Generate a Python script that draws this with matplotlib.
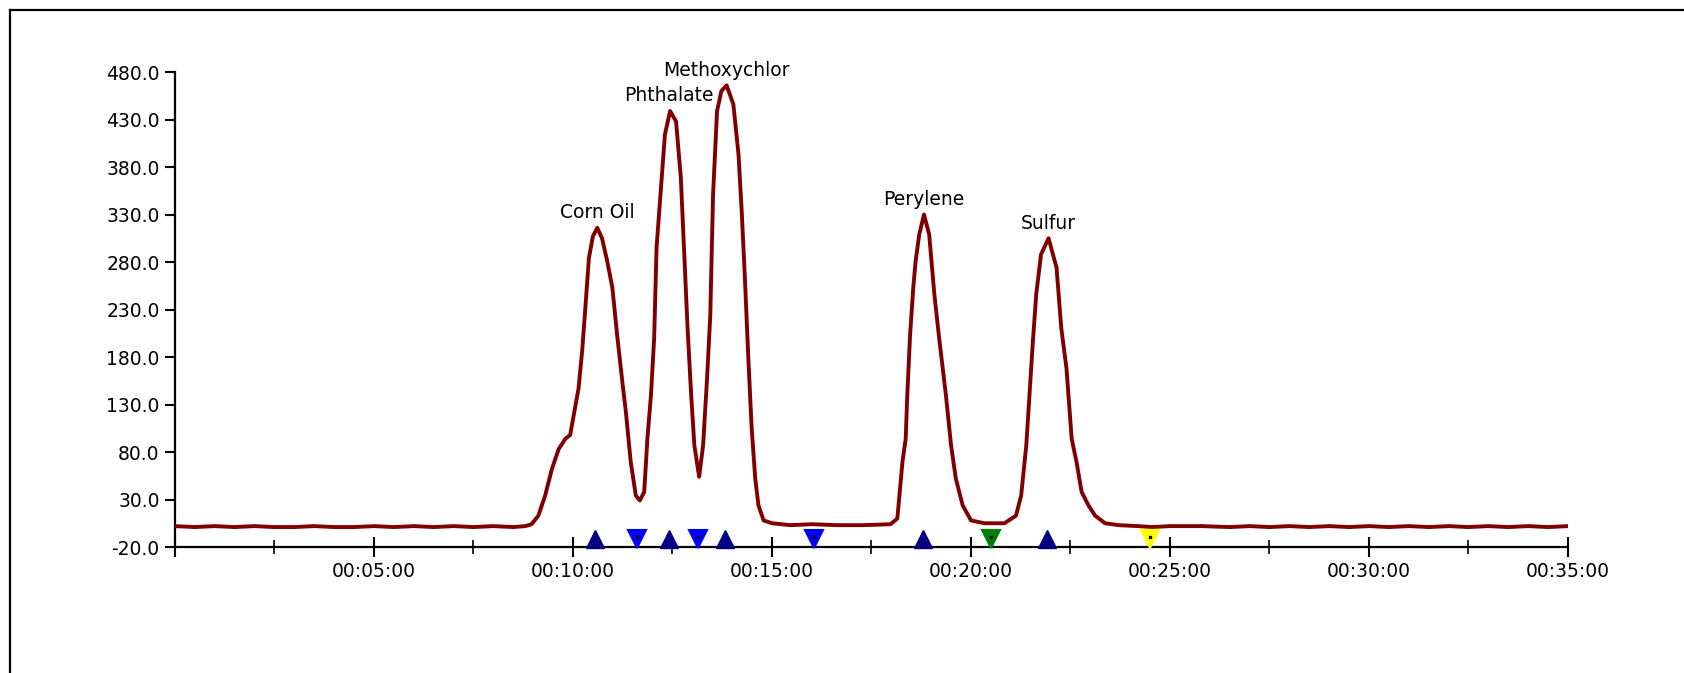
import matplotlib
matplotlib.use("Agg")
import matplotlib.pyplot as plt
from matplotlib.lines import Line2D
from matplotlib.ticker import MultipleLocator, FuncFormatter

# chromatogram trace (minutes, signal)
time_min = [0.0, 0.5, 1.0, 1.5, 2.0, 2.5, 3.0, 3.5, 4.0, 4.5, 5.0, 5.5, 6.0, 6.5,
            7.0, 7.5, 8.0, 8.5, 8.8, 8.96, 9.13, 9.30, 9.47, 9.64, 9.81, 9.93,
            10.02, 10.14, 10.23, 10.31, 10.40, 10.50, 10.61, 10.73, 10.86, 10.99,
            11.11, 11.24, 11.33, 11.45, 11.58, 11.68, 11.79, 11.87, 11.96, 12.04,
            12.10, 12.21, 12.31, 12.44, 12.59, 12.71, 12.80, 12.88, 12.97, 13.05,
            13.17, 13.27, 13.37, 13.45, 13.52, 13.62, 13.73, 13.86, 14.03, 14.16,
            14.24, 14.32, 14.41, 14.49, 14.58, 14.66, 14.79, 15.0, 15.46, 16.0,
            16.64, 17.3, 17.98, 18.15, 18.28, 18.36, 18.40, 18.47, 18.55, 18.61,
            18.70, 18.82, 18.95, 19.08, 19.20, 19.29, 19.37, 19.50, 19.62, 19.79,
            20.0, 20.34, 20.84, 21.13, 21.26, 21.39, 21.47, 21.55, 21.64, 21.76,
            21.95, 22.15, 22.27, 22.40, 22.53, 22.65, 22.78, 22.95, 23.12, 23.37,
            23.71, 24.2, 24.55, 25.0, 25.8, 26.5, 27.0, 27.5, 28.0, 28.5, 29.0,
            29.5, 30.0, 30.5, 31.0, 31.5, 32.0, 32.5, 33.0, 33.5, 34.0, 34.5, 35.0]
signal = [2, 1, 2, 1, 2, 1, 1, 2, 1, 1, 2, 1, 2, 1,
          2, 1, 2, 1, 2, 4, 13, 34, 62, 83, 94, 98,
          119, 147, 186, 231, 284, 307, 316, 305, 281, 253,
          203, 154, 122, 70, 34, 29, 38, 94, 140, 200,
          295, 358, 414, 439, 428, 369, 284, 210, 140, 87,
          54, 87, 158, 224, 351, 439, 460, 466, 446, 393,
          333, 263, 175, 105, 52, 24, 8, 5, 3, 4,
          3, 3, 4, 10, 70, 94, 140, 203, 253, 281,
          309, 330, 309, 246, 200, 168, 140, 87, 52, 24,
          8, 5, 5, 13, 34, 87, 140, 193, 246, 288,
          305, 274, 210, 168, 94, 70, 38, 24, 13, 5,
          3, 2, 1, 2, 2, 1, 2, 1, 2, 1, 2,
          1, 2, 1, 2, 1, 2, 1, 2, 1, 2, 1, 2]

# peak labels
peak_names = ["Corn Oil", "Phthalate", "Methoxychlor", "Perylene", "Sulfur"]
peak_times = [10.61, 12.40, 13.86, 18.82, 21.95]
peak_heights = [316, 439, 466, 330, 305]

# baseline event markers
up_times = [10.56, 12.41, 13.81, 18.79, 21.91]
down_times = [11.61, 13.14, 16.05, 20.50, 24.50]
down_colors = ["#0000FF", "#0000FF", "#0000FF", "#008000", "#FFFF00"]

y_ticks = [480, 430, 380, 330, 280, 230, 180, 130, 80, 30, -20]

fig = plt.figure(figsize=(16.84, 6.73), dpi=100)
ax = fig.add_axes([0.1039, 0.1872, 0.8272, 0.7058])

ax.plot(time_min, signal, color="#800000", lw=2.8, zorder=3,
        solid_joinstyle="round")

ax.set_xlim(0, 35)
ax.set_ylim(-20, 480)

# markers sitting on the time axis
ax.plot(up_times, [-12] * len(up_times), ls="none", marker="^", ms=12.5,
        color="#000080", clip_on=False, zorder=4)
for t, c in zip(down_times, down_colors):
    ax.plot([t], [-12], ls="none", marker="v", ms=12.5, color=c, mec=c,
            mew=1.5, clip_on=False, zorder=4)
    ax.plot([t], [-9], ls="none", marker="s", ms=1.8, color="black",
            clip_on=False, zorder=5)

for name, t, h in zip(peak_names, peak_times, peak_heights):
    ax.annotate(name, (t, h), xytext=(0, 4), textcoords="offset points",
                ha="center", va="bottom", fontsize=13.5, color="black")

ax.set_yticks(y_ticks)
ax.yaxis.set_major_formatter(FuncFormatter(lambda v, p: f"{v:.1f}"))
ax.xaxis.set_major_locator(MultipleLocator(5))
ax.xaxis.set_minor_locator(MultipleLocator(2.5))


def fmt_time(v, p):
    if v <= 0:
        return ""
    m = int(round(v))
    return f"00:{m:02d}:00"


ax.xaxis.set_major_formatter(FuncFormatter(fmt_time))

for s in ["top", "right"]:
    ax.spines[s].set_visible(False)
for s in ["left", "bottom"]:
    ax.spines[s].set_linewidth(1.6)
    ax.spines[s].set_color("black")

ax.tick_params(axis="y", direction="out", length=7, width=1.5, pad=4, labelsize=13.5)
ax.tick_params(axis="x", which="major", direction="inout", length=14, width=1.5,
               pad=4, labelsize=13.5)
ax.tick_params(axis="x", which="minor", direction="inout", length=10, width=1.2)

# outer frame (left and top edges)
fig.add_artist(Line2D([0.0059, 0.0059], [0.0, 0.985], color="black", lw=1.6))
fig.add_artist(Line2D([0.0059, 1.0], [0.985, 0.985], color="black", lw=1.6))

fig.savefig("out.png", dpi=100)
